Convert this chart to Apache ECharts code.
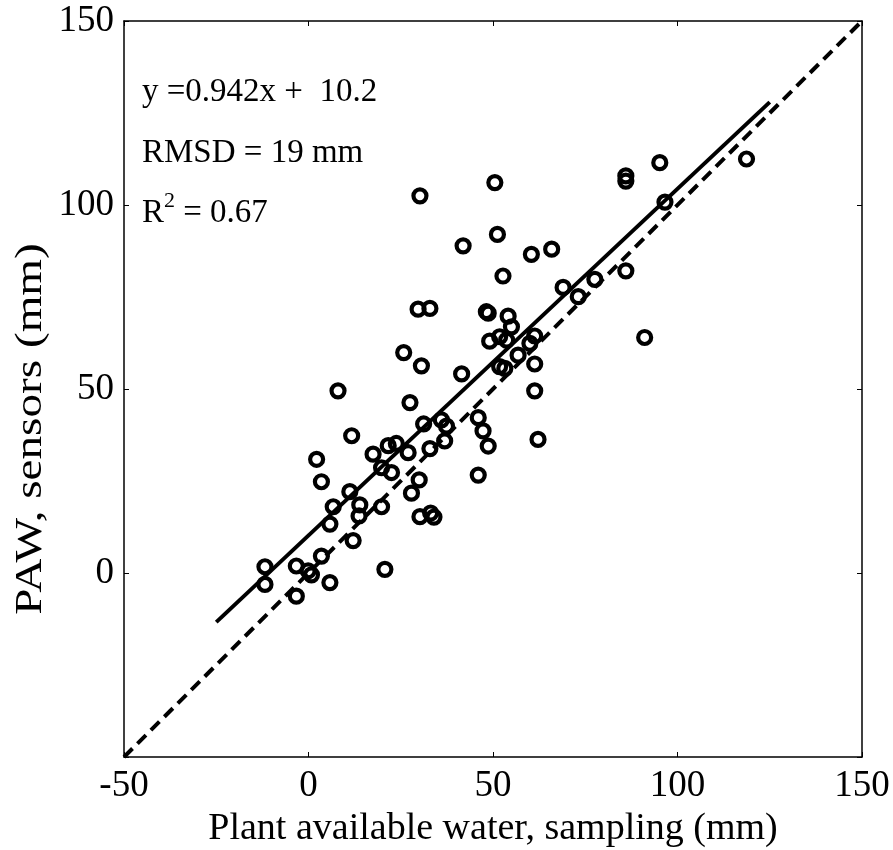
<!DOCTYPE html>
<html><head><meta charset="utf-8">
<script src="https://cdn.jsdelivr.net/npm/echarts@6/dist/echarts.min.js"></script>
<style>html,body{margin:0;padding:0;background:#fff}#c{width:893px;height:850px}</style>
</head><body><div id="c"></div>
<script>
// Plant available water from sampling (x) vs sensors (y), mm
const samplingPAW = [-11.8,-11.8,-3.3,-3.3,-0.1,0.8,5.8,3.5,20.7,12.1,5.8,6.7,13.9,13.7,11.2,19.8,2.2,3.5,27.9,30.0,30.2,33.1,34.0,22.5,19.8,17.5,21.6,23.8,27.0,11.7,8.0,32.9,31.2,36.0,37.4,36.9,27.5,25.8,30.6,41.5,29.7,32.9,46.0,47.3,48.7,46.0,62.2,61.3,61.3,60.0,61.3,56.8,51.8,53.2,49.1,51.8,53.7,54.1,55.0,48.2,48.7,52.7,51.2,50.5,41.9,30.2,60.4,65.9,69.0,73.1,77.6,86.0,91.1,86.0,86.0,95.2,96.6,118.7];
const sensorPAW   = [1.7,-3.1,1.9,-6.3,0.6,-0.5,-2.6,4.6,1.0,8.8,13.3,18.0,18.5,15.5,22.1,18.0,30.9,24.8,21.7,25.3,15.3,16.3,15.2,27.3,28.6,32.3,34.6,35.2,32.7,37.3,49.5,33.8,40.5,41.6,39.9,35.9,46.3,59.9,56.3,54.1,71.7,71.9,42.2,38.6,34.5,26.6,36.3,49.5,56.8,62.4,64.4,59.2,56.1,55.6,63.0,64.2,63.3,69.8,66.9,71.0,70.6,80.7,92.0,106.1,88.9,102.5,86.6,88.0,77.6,75.1,79.8,82.1,64.0,107.9,106.5,111.5,100.8,112.5];
// Regression line end points (y = 0.942x + 10.2)
const fitX = [-25, 125];
const fitY = [-13.35, 127.95];
// 1:1 line
const oneX = [-50, 150];
const oneY = [-50, 150];
const xTicks = [-50, 0, 50, 100, 150];
const yTicks = [-50, 0, 50, 100, 150];
const annotEq = 'y =0.942x +  10.2';
const annotRmsd = 'RMSD = 19 mm';
const annotR2 = ['R', '2', ' = 0.67'];
const xTitle = 'Plant available water, sampling (mm)';
const yTitle = 'PAW, sensors (mm)';

const FONT = '"Liberation Serif", "Times New Roman", serif';
const chart = echarts.init(document.getElementById('c'), null, {renderer: 'canvas'});
const pts = samplingPAW.map((x, i) => [x, sensorPAW[i]]);
const axisCommon = {
  type: 'value', min: xTicks[0], max: xTicks[xTicks.length - 1], interval: 50,
  splitLine: {show: false},
  axisLine: {show: true, onZero: false, lineStyle: {color: '#000', width: 1.5}},
  axisTick: {show: true, inside: true, length: 5, lineStyle: {color: '#000', width: 1}},
};
chart.setOption({
  animation: false,
  backgroundColor: '#fff',
  grid: {left: 124, right: 31, top: 21, bottom: 93, containLabel: false, outerBoundsMode: 'none'},
  xAxis: [
    Object.assign({}, axisCommon, {
      position: 'bottom',
      axisLabel: {show: true, color: '#000', fontFamily: FONT, fontSize: 37, margin: 11},
      name: xTitle, nameLocation: 'middle', nameGap: 52,
      nameTextStyle: {color: '#000', fontFamily: FONT, fontSize: 38}
    }),
    Object.assign({}, axisCommon, {position: 'top', axisLabel: {show: false}})
  ],
  yAxis: [
    Object.assign({}, axisCommon, {
      min: yTicks[0], max: yTicks[yTicks.length - 1],
      position: 'left',
      axisLabel: {show: true, color: '#000', fontFamily: FONT, fontSize: 37, margin: 10,
        formatter: v => (v === -50 ? '' : String(v))}
    }),
    Object.assign({}, axisCommon, {min: yTicks[0], max: yTicks[yTicks.length - 1], position: 'right', axisLabel: {show: false}})
  ],
  graphic: [
    {type: 'text', x: 31, y: 429, rotation: Math.PI / 2, scaleX: 1.275, scaleY: 1,
      style: {text: yTitle, fill: '#000', font: '37px ' + FONT, align: 'center', verticalAlign: 'middle'}},
    {type: 'text', left: 142, top: 76, style: {text: annotEq, fill: '#000', font: '33px ' + FONT}},
    {type: 'text', left: 142, top: 137, style: {text: annotRmsd, fill: '#000', font: '33px ' + FONT}},
    {type: 'text', left: 142, top: 190, style: {
      text: '{a|' + annotR2[0] + '}{s|' + annotR2[1] + '}{a|' + annotR2[2] + '}',
      rich: {
        a: {fill: '#000', fontFamily: FONT, fontSize: 33, lineHeight: 40, verticalAlign: 'bottom'},
        s: {fill: '#000', fontFamily: FONT, fontSize: 22, lineHeight: 40, verticalAlign: 'top'}
      }}}
  ],
  series: [
    {
      type: 'line', data: oneX.map((x, i) => [x, oneY[i]]), symbol: 'none', silent: true,
      lineStyle: {color: '#000', width: 4, type: [12, 7]}, z: 2
    },
    {
      type: 'line', data: fitX.map((x, i) => [x, fitY[i]]), symbol: 'none', silent: true,
      lineStyle: {color: '#000', width: 4, type: 'solid'}, z: 3
    },
    {
      type: 'scatter', data: pts, symbol: 'circle', symbolSize: 13,
      itemStyle: {color: 'rgba(0,0,0,0)', borderColor: '#000', borderWidth: 4.2, opacity: 1}, z: 4
    }
  ]
});
</script>
</body></html>
